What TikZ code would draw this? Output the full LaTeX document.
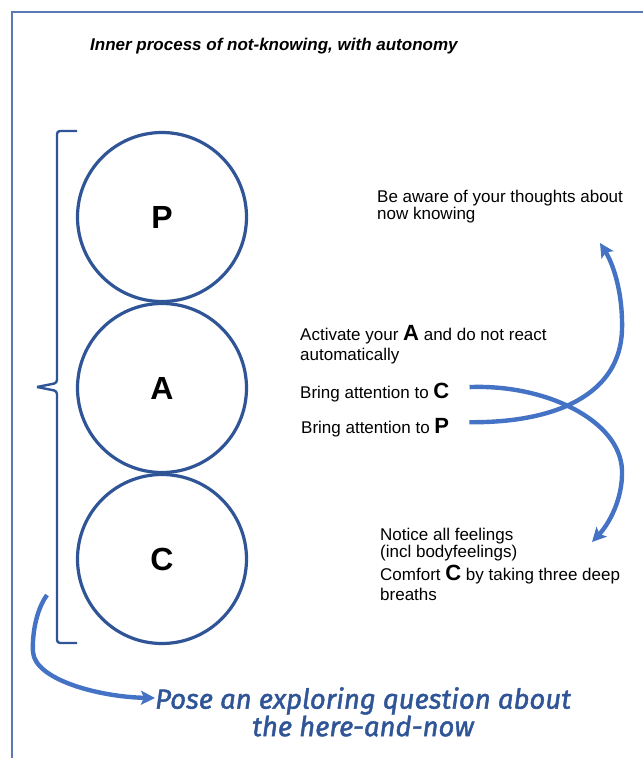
\documentclass[tikz,border=0pt]{standalone}
\usepackage{fontspec}
\setmainfont{Liberation Sans}
\newfontfamily\handfont{Fira Sans}[ItalicFeatures={FakeBold=1.6}]
\usetikzlibrary{arrows.meta}
\definecolor{cdark}{HTML}{2F5597}
\definecolor{carrow}{HTML}{4472C4}
\definecolor{cframe}{HTML}{5B79B5}
\newcommand\Ltr[1]{{\fontsize{22}{22}\selectfont\bfseries #1}}

\begin{document}
\begin{tikzpicture}[x=1pt,y=-1pt,
  ring/.style={draw=cdark,line width=3.2pt,circle,minimum size=169pt,inner sep=0pt,
    font=\fontsize{32}{32}\selectfont\bfseries},
  note/.style={anchor=north west,align=left,inner sep=0pt,
    font=\fontsize{17}{17.3}\selectfont},
  line/.style={anchor=base west,inner sep=0pt,font=\fontsize{17}{17.3}\selectfont},
  flow/.style={draw=carrow,line width=4.4pt,
    -{Stealth[length=14pt,width=14pt,inset=3pt]}}]
  \useasboundingbox (0,0) rectangle (643,758);
  % frame
  \draw[cframe,line width=1.6pt] (12,758) -- (12,12) -- (643,12);
  \node[anchor=base west,inner sep=0pt,font=\fontsize{17}{17}\selectfont\bfseries\itshape]
    (title) at (90,50) {Inner process of not-knowing, with autonomy};
  % the three circles
  \node[ring] (p) at (162,217) {P};
  \node[ring] (a) at (162,388) {A};
  \node[ring] (c) at (162,559) {C};
  \draw[cdark,line width=2.4pt,rounded corners=3pt]
    (77,131) -- (57,131) -- (57,383) -- (37,387);
  \draw[cdark,line width=2.4pt,rounded corners=3pt]
    (37,387) -- (57,391) -- (57,643) -- (77,643);
  % texts
  \node[note] (aware) at (377,189.5) {Be aware of your thoughts about\\now knowing};
  \node[note] (act) at (300,325) {Activate your \Ltr{A} and do not react\\[2.7pt]automatically};
  \node[line] (bc) at (300,398) {Bring attention to \Ltr{C}};
  \node[line] (bp) at (301,433) {Bring attention to \Ltr{P}};
  \node[note] (feel) at (380,528) {Notice all feelings\\(incl bodyfeelings)};
  \node[note] (calm) at (380,565) {Comfort \Ltr{C} by taking three deep\\[2.7pt]breaths};
  \node[anchor=north west,inner sep=0pt,align=center,text=cdark,
    font=\fontsize{27.5}{26}\handfont\itshape] (pose) at (155,687)
    {Pose an exploring question about\\the here-and-now};
  % arrows
  \coordinate (up) at (600,243);
  \coordinate (down) at (592,542);
  \coordinate (start) at (47,595);
  \draw[flow] ([xshift=20pt,yshift=5pt]bc.east) .. controls (545,384) and (620,420) .. (622,470)
    .. controls (623,500) and (608,525) .. (down);
  \draw[flow] ([xshift=20pt,yshift=5pt]bp.east) .. controls (555,423) and (620,395) .. (622,330)
    .. controls (623,290) and (612,262) .. (up);
  \draw[flow] (start) .. controls (36,610) and (32,635) .. (33,652)
    .. controls (35,680) and (100,697) .. (pose.west|-148,698);
\end{tikzpicture}
\end{document}
